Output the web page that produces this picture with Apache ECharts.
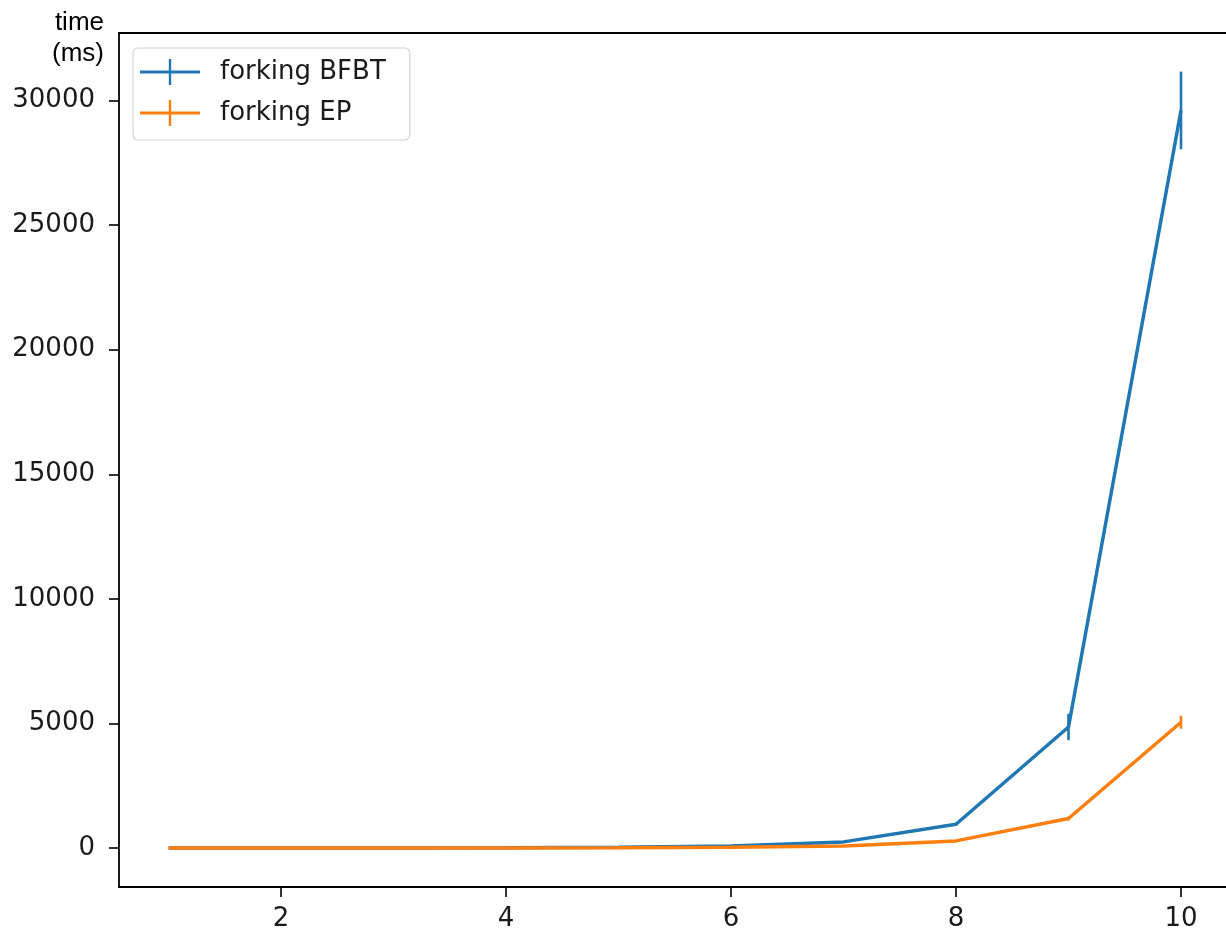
<!DOCTYPE html>
<html>
<head>
<meta charset="utf-8">
<script src="https://cdn.jsdelivr.net/npm/echarts@6/dist/echarts.min.js"></script>
<style>html,body{margin:0;padding:0;background:#fff;}#c{width:1226px;height:935px;}</style>
</head>
<body>
<div id="c"></div>
<script>
const xValues = [1, 2, 3, 4, 5, 6, 7, 8, 9, 10];
const bfbtMean = [2, 5, 10, 20, 40, 90, 250, 960, 4860, 29600];
const bfbtErr = [0, 0, 0, 1, 2, 5, 15, 60, 530, 1560];
const epMean = [1, 2, 4, 8, 15, 35, 90, 290, 1190, 5050];
const epErr = [0, 0, 0, 0, 1, 2, 5, 20, 80, 260];
const xTicks = [2, 4, 6, 8, 10];
const yTicks = [0, 5000, 10000, 15000, 20000, 25000, 30000];
const seriesNames = ['forking BFBT', 'forking EP'];
const colors = ['#1f77b4', '#ff7f0e'];

const chart = echarts.init(document.getElementById('c'));
const legendIcon = 'path://M0,11.5h60v3h-60z M28.8,0h2.4v26h-2.4z';

function lineData(m) { return xValues.map((x, i) => [x, m[i]]); }
function errData(m, e) { return xValues.map((x, i) => [x, m[i] - e[i], m[i] + e[i]]); }
function errSeries(name, color, data, z) {
  return {
    type: 'custom', name: name, data: data, z: z, silent: true,
    encode: { x: 0, y: [1, 2] },
    renderItem: function (params, api) {
      const lo = api.coord([api.value(0), api.value(1)]);
      const hi = api.coord([api.value(0), api.value(2)]);
      return { type: 'line', shape: { x1: lo[0], y1: lo[1], x2: hi[0], y2: hi[1] },
        style: { stroke: color, lineWidth: 2.6 } };
    }
  };
}

const tickFont = { fontFamily: 'DejaVu Sans', fontSize: 26, color: '#1a1a1a' };
const spine = { show: true, onZero: false, lineStyle: { color: '#000', width: 1.8 } };

chart.setOption({
  animation: false,
  backgroundColor: '#fff',
  grid: { left: 119, top: 33, right: 0, bottom: 48 },
  xAxis: [{
    type: 'value', min: 0.56, max: 10.4,
    axisLine: spine,
    axisTick: { show: true, length: 10, lineStyle: { color: '#000', width: 1.6 }, customValues: xTicks },
    axisLabel: Object.assign({ margin: 19, customValues: xTicks, formatter: v => String(v) }, tickFont),
    splitLine: { show: false }
  }, {
    type: 'value', min: 0.56, max: 10.4, position: 'top',
    axisLine: spine, axisTick: { show: false }, axisLabel: { show: false }, splitLine: { show: false }
  }],
  yAxis: {
    type: 'value', min: -1560, max: 32710,
    axisLine: spine,
    axisTick: { show: true, length: 10, lineStyle: { color: '#000', width: 1.6 }, customValues: yTicks },
    axisLabel: Object.assign({ margin: 24, customValues: yTicks, formatter: v => String(v) }, tickFont),
    splitLine: { show: false }
  },
  legend: {
    orient: 'vertical', left: 133, top: 48,
    padding: [11, 24, 14, 7], itemGap: 15,
    itemWidth: 60, itemHeight: 26,
    borderColor: '#d4d4d4', borderWidth: 1.2, borderRadius: 5,
    backgroundColor: 'rgba(255,255,255,0.85)',
    textStyle: { fontFamily: 'DejaVu Sans', fontSize: 26, color: '#1a1a1a', padding: [0, 0, 0, 15] },
    data: [
      { name: seriesNames[0], icon: legendIcon, itemStyle: { color: colors[0] } },
      { name: seriesNames[1], icon: legendIcon, itemStyle: { color: colors[1] } }
    ]
  },
  graphic: [{
    type: 'text', x: 104, y: 7,
    style: { text: 'time\n(ms)', textAlign: 'right', font: '26px "Liberation Sans"', lineHeight: 31, fill: '#000' }
  }],
  series: [
    { type: 'line', name: seriesNames[0], data: lineData(bfbtMean), showSymbol: false, symbol: 'none',
      lineStyle: { color: colors[0], width: 3.5 }, itemStyle: { color: colors[0] }, z: 2 },
    errSeries(seriesNames[0], colors[0], errData(bfbtMean, bfbtErr), 3),
    { type: 'line', name: seriesNames[1], data: lineData(epMean), showSymbol: false, symbol: 'none',
      lineStyle: { color: colors[1], width: 3.5 }, itemStyle: { color: colors[1] }, z: 4 },
    errSeries(seriesNames[1], colors[1], errData(epMean, epErr), 5)
  ]
});
</script>
</body>
</html>
